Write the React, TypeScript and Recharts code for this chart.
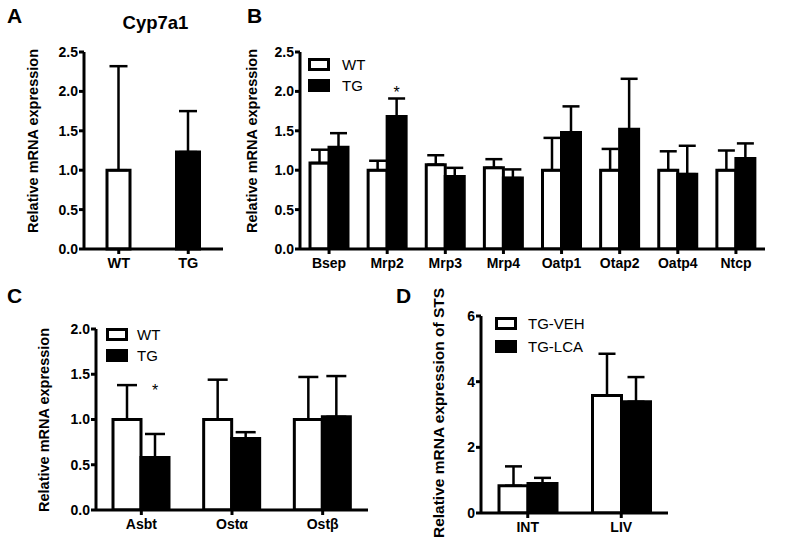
import React from "react";
import { BarChart, Bar, XAxis, YAxis, ErrorBar, Cell, Legend, LabelList } from "recharts";

const FONT = '"Liberation Sans", Arial, Helvetica, sans-serif';

// A: Cyp7a1
const cypGroups = ["WT", "TG"];
const cypMean = [1.0, 1.23];
const cypErr = [1.32, 0.52];

// B: transporters
const bGenes = ["Bsep", "Mrp2", "Mrp3", "Mrp4", "Oatp1", "Otap2", "Oatp4", "Ntcp"];
const bWtMean = [1.09, 1.0, 1.07, 1.03, 1.0, 1.0, 1.0, 1.0];
const bWtErr = [0.17, 0.12, 0.12, 0.11, 0.41, 0.27, 0.24, 0.25];
const bTgMean = [1.29, 1.68, 0.92, 0.9, 1.48, 1.52, 0.95, 1.15];
const bTgErr = [0.18, 0.23, 0.11, 0.11, 0.33, 0.64, 0.36, 0.19];
const bStar = [null, 2.03, null, null, null, null, null, null];

// C: intestinal transporters
const cGenes = ["Asbt", "Ostα", "Ostβ"];
const cWtMean = [1.0, 1.0, 1.0];
const cWtErr = [0.38, 0.44, 0.47];
const cTgMean = [0.58, 0.79, 1.03];
const cTgErr = [0.26, 0.07, 0.45];
const cStar = [1.36, null, null];

// D: STS
const dTissues = ["INT", "LIV"];
const dVehMean = [0.83, 3.58];
const dVehErr = [0.59, 1.27];
const dLcaMean = [0.9, 3.39];
const dLcaErr = [0.17, 0.75];

const rowsA = cypGroups.map((g, i) => ({ name: g, mean: cypMean[i], err: [0, cypErr[i]] }));

const makeRows = (names: string[], m1: number[], e1: number[], m2: number[], e2: number[], stars?: (number | null)[]) =>
  names.map((n, i) => ({
    name: n,
    a: m1[i],
    aErr: [0, e1[i]],
    b: m2[i],
    bErr: [0, e2[i]],
    star: stars ? stars[i] : null,
  }));

const rowsB = makeRows(bGenes, bWtMean, bWtErr, bTgMean, bTgErr, bStar);
const rowsC = makeRows(cGenes, cWtMean, cWtErr, cTgMean, cTgErr, cStar);
const rowsD = makeRows(dTissues, dVehMean, dVehErr, dLcaMean, dLcaErr);

const tickStyle = { fill: "#000", fontSize: 14, fontWeight: "bold", fontFamily: FONT };
const axisLineStyle = { stroke: "#000", strokeWidth: 3 };

const oneDecimal = (v: number) => v.toFixed(1);

// asterisk placed at a data level above a bar, using the bar's own pixel scale
const makeStar = (means: number[]) => (props: any) => {
  const { x, y, width, height, value, index } = props;
  if (value == null) return null;
  const perUnit = height / means[index];
  const yy = y + height - value * perUnit;
  return (
    <text x={x + width / 2} y={yy + 9} textAnchor="middle" fontSize={16} fontFamily={FONT} fill="#000">
      *
    </text>
  );
};

const BoxLegend = ({ items, row, gap }: { items: { name: string; fill: string }[]; row: number; gap: number }) => (
  <div style={{ fontFamily: FONT, fontSize: 15, color: "#000" }}>
    {items.map((it) => (
      <div key={it.name} style={{ display: "flex", alignItems: "center", height: row }}>
        <span style={{ display: "inline-block", width: 16, height: 7, border: "3px solid #000", background: it.fill }} />
        <span style={{ marginLeft: gap, lineHeight: 1 }}>{it.name}</span>
      </div>
    ))}
  </div>
);

const W = 800;
const H = 549;
const layer: React.CSSProperties = { position: "absolute", left: 0, top: 0 };

const GroupedPanel = ({
  rows,
  margin,
  domain,
  ticks,
  fmt,
  barSize,
  capHalf,
  names,
  legendPos,
  legendRow,
  legendGap,
  means,
}: any) => (
  <div style={layer}>
    <BarChart width={W} height={H} data={rows} margin={margin} barGap={0}>
      <XAxis
        dataKey="name"
        axisLine={axisLineStyle}
        tickLine={axisLineStyle}
        tickSize={5}
        tickMargin={4}
        tick={tickStyle}
        height={30}
        interval={0}
      />
      <YAxis
        domain={domain}
        ticks={ticks}
        tickFormatter={fmt}
        axisLine={axisLineStyle}
        tickLine={axisLineStyle}
        tickSize={5}
        tickMargin={1}
        tick={tickStyle}
        width={40}
        allowDataOverflow
      />
      <Legend
        verticalAlign="middle"
        align="center"
        layout="horizontal"
        wrapperStyle={{ left: legendPos[0], top: legendPos[1], width: 140, height: "auto" }}
        content={() => (
          <BoxLegend
            items={[
              { name: names[0], fill: "#fff" },
              { name: names[1], fill: "#000" },
            ]}
            row={legendRow}
            gap={legendGap}
          />
        )}
      />
      <Bar dataKey="a" name={names[0]} fill="#fff" stroke="#000" strokeWidth={3} barSize={barSize} isAnimationActive={false}>
        <ErrorBar dataKey="aErr" width={capHalf} stroke="#000" strokeWidth={2.5} direction="y" />
      </Bar>
      <Bar dataKey="b" name={names[1]} fill="#000" stroke="#000" strokeWidth={3} barSize={barSize} isAnimationActive={false}>
        <ErrorBar dataKey="bErr" width={capHalf} stroke="#000" strokeWidth={2.5} direction="y" />
        <LabelList dataKey="star" content={makeStar(means)} />
      </Bar>
    </BarChart>
  </div>
);

const labelTexts = [
  { t: "A", x: 7, y: 23 },
  { t: "B", x: 247, y: 23 },
  { t: "C", x: 7, y: 303 },
  { t: "D", x: 396, y: 303 },
];

const yLabels = [
  { t: "Relative mRNA expression", x: 33, y: 141 },
  { t: "Relative mRNA expression", x: 252, y: 141 },
  { t: "Relative mRNA expression", x: 44, y: 420 },
  { t: "Relative mRNA expression of STS", x: 438, y: 413 },
];

export default function App() {
  return (
    <div style={{ position: "absolute", left: 0, top: 0, width: W, height: H, background: "#fff", overflow: "hidden" }}>
      {/* A */}
      <div style={layer}>
        <BarChart width={W} height={H} data={rowsA} margin={{ top: 52, left: 44, right: 577, bottom: 270 }}>
          <XAxis
            dataKey="name"
            axisLine={axisLineStyle}
            tickLine={axisLineStyle}
            tickSize={5}
            tickMargin={4}
            tick={{ ...tickStyle, fontSize: 14.5 }}
            height={30}
          />
          <YAxis
            domain={[0, 2.5]}
            ticks={[0, 0.5, 1, 1.5, 2, 2.5]}
            tickFormatter={oneDecimal}
            axisLine={axisLineStyle}
            tickLine={axisLineStyle}
            tickSize={5}
            tickMargin={1}
            tick={tickStyle}
            width={40}
          />
          <Bar dataKey="mean" stroke="#000" strokeWidth={3} barSize={23} isAnimationActive={false}>
            {rowsA.map((r, i) => (
              <Cell key={r.name} fill={i === 0 ? "#fff" : "#000"} />
            ))}
            <ErrorBar dataKey="err" width={9} stroke="#000" strokeWidth={2.5} direction="y" />
          </Bar>
        </BarChart>
      </div>

      {/* B */}
      <GroupedPanel
        rows={rowsB}
        margin={{ top: 52, left: 260, right: 35, bottom: 270 }}
        domain={[0, 2.5]}
        ticks={[0, 0.5, 1, 1.5, 2, 2.5]}
        fmt={oneDecimal}
        barSize={19}
        capHalf={8.5}
        names={["WT", "TG"]}
        legendPos={[308, 54]}
        legendRow={21}
        legendGap={12}
        means={bTgMean}
      />

      {/* C */}
      <GroupedPanel
        rows={rowsC}
        margin={{ top: 329, left: 56, right: 432, bottom: 9 }}
        domain={[0, 2]}
        ticks={[0, 0.5, 1, 1.5, 2]}
        fmt={oneDecimal}
        barSize={28}
        capHalf={10}
        names={["WT", "TG"]}
        legendPos={[106, 323.5]}
        legendRow={21}
        legendGap={9}
        means={cTgMean}
      />

      {/* D */}
      <GroupedPanel
        rows={rowsD}
        margin={{ top: 316, left: 441, right: 132, bottom: 6 }}
        domain={[0, 6]}
        ticks={[0, 2, 4, 6]}
        fmt={(v: number) => String(v)}
        barSize={29}
        capHalf={8.5}
        names={["TG-VEH", "TG-LCA"]}
        legendPos={[495, 311.5]}
        legendRow={23}
        legendGap={11}
        means={dLcaMean}
      />

      <svg width={W} height={H} style={{ ...layer, pointerEvents: "none" }}>
        {labelTexts.map((l) => (
          <text key={l.t} x={l.x} y={l.y} fontFamily={FONT} fontWeight="bold" fontSize={21} fill="#000">
            {l.t}
          </text>
        ))}
        <text x={155.5} y={29} textAnchor="middle" fontFamily={FONT} fontWeight="bold" fontSize={18.5} fill="#000">
          Cyp7a1
        </text>
        {yLabels.map((l, i) => (
          <text
            key={i}
            transform={`translate(${l.x},${l.y}) rotate(-90)`}
            textAnchor="middle"
            dominantBaseline="central"
            fontFamily={FONT}
            fontWeight="bold"
            fontSize={i === 3 ? 15.5 : 14.5}
            fill="#000"
          >
            {l.t}
          </text>
        ))}
      </svg>
    </div>
  );
}
